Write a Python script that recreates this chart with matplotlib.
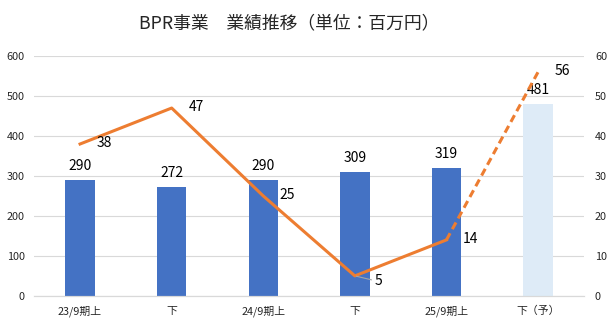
import numpy as np
import matplotlib
matplotlib.use("Agg")
import matplotlib.pyplot as plt

plt.rcParams['font.family'] = ['Noto Sans CJK JP', 'DejaVu Sans']

periods = ['23/9期上', '下', '24/9期上', '下', '25/9期上', '下（予）']
sales = [290, 272, 290, 309, 319, 481]
profit = [38, 47, 25, 5, 14, 56]
forecast = [False, False, False, False, False, True]

blue = '#4472C4'
light = '#DEEBF7'
orange = '#ED7D31'

fig = plt.figure(figsize=(6.12, 3.28), dpi=100)
ax = fig.add_axes([0.056, 0.098, 0.898, 0.731])
ax2 = ax.twinx()

x = np.arange(len(periods))
colors = [light if f else blue for f in forecast]
ax.bar(x, sales, width=0.32, color=colors, zorder=2)
for xi, v in zip(x, sales):
    ax.annotate(str(v), (xi, v), xytext=(0, 5), textcoords='offset points',
                ha='center', va='bottom', fontsize=10, zorder=5)

ax.set_ylim(0, 600)
ax.set_yticks(range(0, 601, 100))
ax.set_xlim(-0.5, len(periods) - 0.5)
ax.set_xticks(x)
ax.set_xticklabels(periods)
ax.grid(axis='y', color='#D9D9D9', linewidth=0.8, zorder=0)
ax.set_axisbelow(True)

# actual results solid, forecast segment dashed
ax2.plot(x[:5], profit[:5], color=orange, linewidth=2.2, zorder=3)
ax2.plot(x[4:], profit[4:], color=orange, linewidth=2.2, linestyle=(0, (2.5, 1.5)), zorder=3)
ax2.set_ylim(0, 60)
ax2.set_yticks(range(0, 61, 10))
for i, (xi, v) in enumerate(zip(x, profit)):
    if i == 3:
        ax2.annotate(str(v), (xi, v), xytext=(14, -4), textcoords='offset points',
                     ha='left', va='center', fontsize=10,
                     arrowprops=dict(arrowstyle='-', color='#A6A6A6', lw=0.8,
                                     shrinkA=0, shrinkB=1))
    else:
        ax2.annotate(str(v), (xi, v), xytext=(12, 1), textcoords='offset points',
                     ha='left', va='center', fontsize=10)

for a in (ax, ax2):
    for s in ('top', 'left', 'right'):
        a.spines[s].set_visible(False)
    a.spines['bottom'].set_color('#D9D9D9')
    a.tick_params(length=0, labelsize=7.8, colors='#262626')
ax.tick_params(axis='y', pad=7)
ax2.tick_params(axis='y', pad=8)
ax.tick_params(axis='x', pad=7)

fig.text(0.472, 0.93, 'BPR事業　業績推移（単位：百万円）', ha='center', va='center',
         fontsize=12.8, color='#262626')

fig.savefig('out.png', dpi=100)
